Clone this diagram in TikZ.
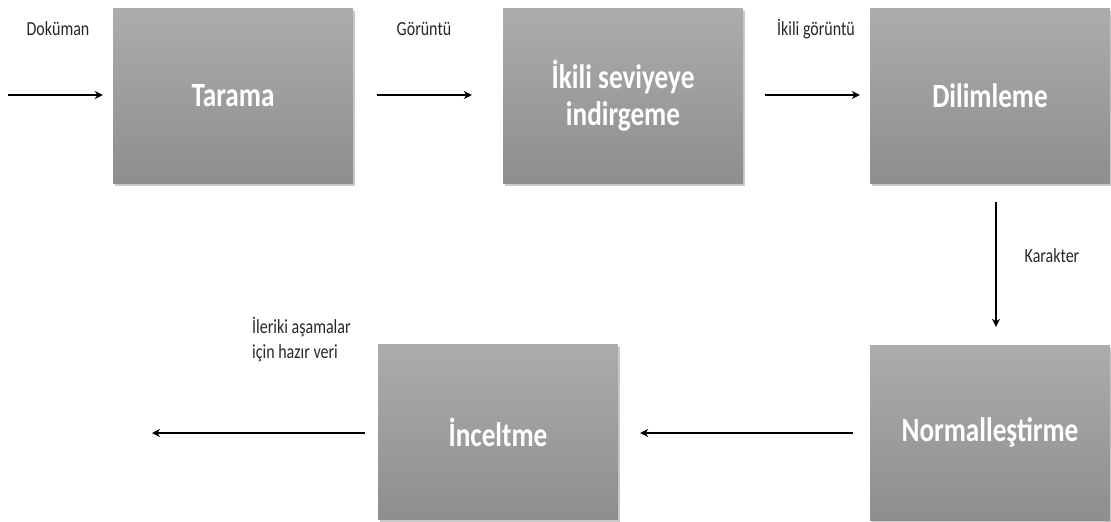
\documentclass[tikz,border=0pt]{standalone}
\usepackage{fontspec}
\setmainfont{Carlito}[FakeStretch=0.8]
\usetikzlibrary{arrows.meta,shadows}
\definecolor{boxtop}{HTML}{ACACAC}
\definecolor{boxbot}{HTML}{8E8E8E}
\tikzset{
  stage/.style={minimum width=240pt, minimum height=175pt, inner sep=0pt,
    top color=boxtop, bottom color=boxbot, draw=none,
    drop shadow={shadow xshift=1.5pt, shadow yshift=-2.5pt, opacity=0.35, fill=black!60},
    text=white, font=\fontsize{34}{37}\selectfont\bfseries, align=center},
  flow/.style={line width=2.3pt, -{Stealth[length=8pt,width=8pt]}},
  tag/.style={font=\fontsize{20}{25}\selectfont, text=black!85, inner sep=0pt}
}
\begin{document}
\begin{tikzpicture}[x=1pt,y=1pt]
  \useasboundingbox (0,0) rectangle (1111,-522);

  % processing stages
  \node[stage] (tar) at (233,-95.5) {Tarama};
  \node[stage] (iki) at (623,-95.5) {İkili seviyeye\\indirgeme};
  \node[stage] (dil) at (990,-95.5) {Dilimleme};
  \node[stage] (nor) at (990,-432.5) {Normalleştirme};
  \node[stage] (inc) at (498,-432) {İnceltme};

  % free ends of the input and output arrows
  \coordinate (in) at (8,-95);
  \coordinate (out) at (152,-433);

  % arrows between stages
  \draw[flow] (in) -- ([xshift=-10pt]tar.west |- in);
  \draw[flow] ([xshift=24pt]tar.east |- in) -- ([xshift=-31pt]iki.west |- in);
  \draw[flow] ([xshift=22pt]iki.east |- in) -- ([xshift=-10pt]dil.west |- in);
  \draw[flow] ([xshift=6pt,yshift=-19pt]dil.south) -- ([xshift=6pt,yshift=18pt]nor.north);
  \draw[flow] ([xshift=-17pt]nor.west |- out) -- ([xshift=22pt]inc.east |- out);
  \draw[flow] ([xshift=-13pt]inc.west |- out) -- (out);

  % arrow labels
  \node[tag, anchor=base] (l1) at (58,-35) {Doküman};
  \node[tag, anchor=base] (l2) at (424,-35) {Görüntü};
  \node[tag, anchor=base] (l3) at (816,-35) {İkili görüntü};
  \node[tag, anchor=base] (l4) at (1052,-262) {Karakter};
  \node[tag, anchor=base west, align=left] (l5) at (252,-358) {İleriki aşamalar\\için hazır veri};
\end{tikzpicture}
\end{document}
